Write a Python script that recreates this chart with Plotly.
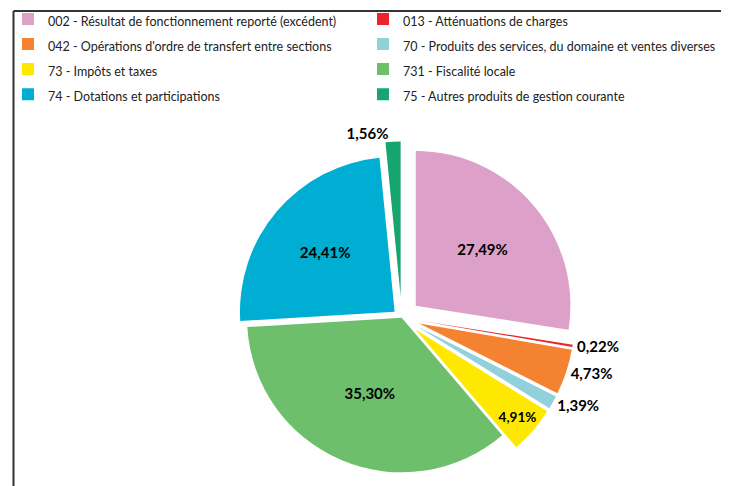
import plotly.graph_objects as go

categories = [
    "002 - Résultat de fonctionnement reporté (excédent)",
    "013 - Atténuations de charges",
    "042 - Opérations d'ordre de transfert entre sections",
    "70 - Produits des services, du domaine et ventes diverses",
    "73 - Impôts et taxes",
    "731 - Fiscalité locale",
    "74 - Dotations et participations",
    "75 - Autres produits de gestion courante",
]
values = [27.49, 0.22, 4.73, 1.39, 4.91, 35.30, 24.41, 1.56]
colors = ["#DDA0C8", "#E8262B", "#F58230", "#92D1DB", "#FFE800", "#6DBF6B", "#00AED4", "#17A56F"]
pulls = [0.12, 0.12, 0.12, 0.12, 0.12, 0.0, 0.06, 0.14]
positions = ["inside", "outside", "outside", "outside", "inside", "inside", "inside", "outside"]

labels_text = [f"{v:.2f}%".replace(".", ",") for v in values]
legend_names = [f'<span style="font-size:12.5px">{c}</span>' for c in categories]

W = 729
fig = go.Figure(go.Pie(
    labels=legend_names,
    values=values,
    text=labels_text,
    textinfo="text",
    textposition=positions,
    textfont=dict(family="Lato", size=15, color="black", weight="bold"),
    insidetextorientation="horizontal",
    marker=dict(colors=colors, line=dict(color="white", width=0)),
    pull=pulls,
    sort=False,
    direction="clockwise",
    rotation=0,
    domain=dict(x=[0.10, 0.98], y=[0.0, 0.73]),
    showlegend=True,
))

fig.update_layout(
    width=W, height=486,
    margin=dict(l=0, r=0, t=3, b=0, autoexpand=False),
    paper_bgcolor="white",
    plot_bgcolor="white",
    font=dict(family="Lato", size=12, color="#222"),
    legend=dict(
        orientation="h",
        x=0.0, y=1.02, xanchor="left", yanchor="top",
        entrywidth=310, entrywidthmode="pixels",
        font=dict(family="Lato", size=17, color="#222"),
        traceorder="normal",
        itemclick=False,
        bgcolor="rgba(0,0,0,0)",
    ),
    shapes=[
        dict(type="line", xref="paper", yref="paper", x0=5.5 / W, x1=1.1, y0=1, y1=1,
             line=dict(color="#333", width=2)),
        dict(type="line", xref="paper", yref="paper", x0=5.5 / W, x1=5.5 / W, y0=-0.1, y1=1,
             line=dict(color="#333", width=2)),
    ],
)

fig.write_html("out.html")
